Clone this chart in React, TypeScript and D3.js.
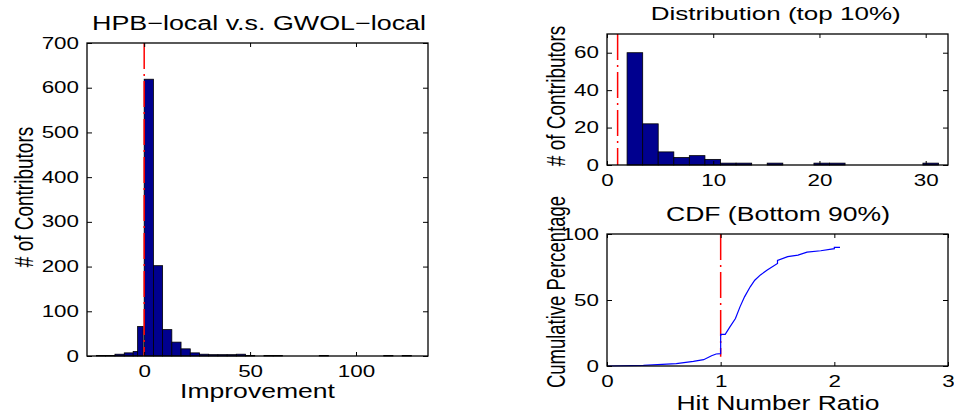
import React, { useRef, useEffect } from "react";
import * as d3 from "d3";

const W = 954;
const H = 413;
const SX = 1.4; // the source figure was stretched sideways, text included
const FONT = "'Liberation Sans', Arial, Helvetica, sans-serif";
const NAVY = "#00008f";

// left: HPB-local v.s. GWOL-local (histogram of improvement)
const improvementLo = [-22.5, -18.2, -13.8, -9.4, -5.2, -3.1, 0, 4.35, 8.7, 13.05, 17.4, 21.75, 26.1, 30.45, 34.8, 39.15, 43.5, 47.85, 56.55, 60.9, 82.65, 113.1, 121.8];
const improvementHi = [-18.2, -13.8, -9.4, -5.2, -3.1, -0.5, 4.35, 8.7, 13.05, 17.4, 21.75, 26.1, 30.45, 34.8, 39.15, 43.5, 47.85, 52.2, 60.9, 65.25, 87, 117.45, 126.15];
const improvementCounts = [1, 1, 4, 7, 10, 66, 619, 202, 59, 31, 16, 7, 4, 3, 3, 3, 4, 1, 1, 1, 1, 1, 1];
const improvementXTicks = [0, 50, 100];
const improvementYTicks = [0, 100, 200, 300, 400, 500, 600, 700];
const improvementRef = 0;

// top right: Distribution (top 10%)
const topEdges = [1.89, 3.36, 4.82, 6.29, 7.75, 9.22, 10.69, 12.15, 13.62, 15.08, 16.55, 18.02, 19.48, 20.95, 22.41, 23.88, 25.35, 26.81, 28.28, 29.74, 31.21];
const topCounts = [60, 22, 7, 4, 5, 3, 1, 1, 0, 1, 0, 0, 1, 1, 0, 0, 0, 0, 0, 1];
const topXTicks = [0, 10, 20, 30];
const topYTicks = [0, 20, 40, 60];
const ratioRef = 1;

// bottom right: CDF (Bottom 90%)
const cdfRatio = [0, 0.32, 0.61, 0.76, 0.85, 0.92, 0.96, 1.0, 1.0, 1.04, 1.08, 1.13, 1.17, 1.21, 1.26, 1.3, 1.35, 1.41, 1.5, 1.5, 1.59, 1.68, 1.76, 1.88, 2.0, 2.0, 2.05];
const cdfPercent = [0, 0.5, 1.8, 3.5, 4.8, 7.8, 9.1, 9.4, 24, 24, 29.4, 36, 44.8, 52.4, 60, 65, 69, 72.7, 77.7, 80, 82.8, 84, 86.3, 87.3, 88.9, 89.9, 89.9];
const cdfXTicks = [0, 1, 2, 3];
const cdfYTicks = [0, 50, 100];

const leftBox = { x: 87, y: 43, w: 341, h: 313 };
const topBox = { x: 607, y: 34, w: 341, h: 131 };
const botBox = { x: 607, y: 234, w: 341, h: 132 };

const fmt = d3.format("~g");

// matlab style box: inward ticks on all four sides
function drawAxes(g, x, y, box, xTicks, yTicks) {
  const tick = (sel) => {
    sel.select(".domain").remove();
    sel.selectAll("line").attr("stroke", "#000").attr("stroke-width", 1);
  };
  const bottom = g.append("g")
    .attr("transform", `translate(0,${box.h})`)
    .call(d3.axisBottom(x).tickValues(xTicks).tickFormat(fmt).tickSizeInner(-4).tickSizeOuter(0).tickPadding(10))
    .call(tick);
  bottom.selectAll("text")
    .attr("transform", `scale(${SX},1)`)
    .style("font-size", "16px")
    .attr("fill", "#000");

  g.append("g")
    .call(d3.axisTop(x).tickValues(xTicks).tickFormat(() => "").tickSizeInner(-4).tickSizeOuter(0))
    .call(tick);

  const left = g.append("g")
    .call(d3.axisLeft(y).tickValues(yTicks).tickFormat(fmt).tickSizeInner(-5).tickSizeOuter(0))
    .call(tick);
  left.selectAll("text")
    .attr("x", -8 / SX)
    .attr("transform", `scale(${SX},1)`)
    .style("font-size", "16px")
    .attr("fill", "#000");

  g.append("g")
    .attr("transform", `translate(${box.w},0)`)
    .call(d3.axisRight(y).tickValues(yTicks).tickFormat(() => "").tickSizeInner(-5).tickSizeOuter(0))
    .call(tick);

  g.append("rect")
    .attr("width", box.w)
    .attr("height", box.h)
    .attr("fill", "none")
    .attr("stroke", "#000")
    .attr("stroke-width", 1.3);
}

function hLabel(svg, str, cx, base, size, len) {
  svg.append("text")
    .attr("x", cx)
    .attr("y", base)
    .attr("text-anchor", "middle")
    .attr("textLength", len)
    .attr("lengthAdjust", "spacingAndGlyphs")
    .style("font-size", `${size}px`)
    .text(str);
}

function vLabel(svg, str, baseX, cy, size) {
  svg.append("text")
    .attr("transform", `translate(${baseX},${cy}) rotate(-90) scale(1,${SX})`)
    .attr("text-anchor", "middle")
    .style("font-size", `${size}px`)
    .text(str);
}

function refLine(g, xPos, y0, y1) {
  g.append("line")
    .attr("x1", xPos).attr("x2", xPos)
    .attr("y1", y0).attr("y2", y1)
    .attr("stroke", "#ff0000")
    .attr("stroke-width", 1.5)
    .attr("stroke-dasharray", "26,5,2,5");
}

export default function App() {
  const svgRef = useRef(null);

  useEffect(() => {
    const svg = d3.select(svgRef.current);
    svg.selectAll("*").remove();
    svg.style("font-family", FONT);

    // ---- left histogram
    const g1 = svg.append("g").attr("transform", `translate(${leftBox.x},${leftBox.y})`);
    const x1 = d3.scaleLinear().domain([-27, 134]).range([0, leftBox.w]);
    const y1 = d3.scaleLinear().domain([0, 700]).range([leftBox.h, 0]);
    g1.selectAll("rect.bar")
      .data(improvementCounts)
      .enter()
      .append("rect")
      .attr("class", "bar")
      .attr("x", (d, i) => x1(improvementLo[i]))
      .attr("y", (d) => y1(d))
      .attr("width", (d, i) => x1(improvementHi[i]) - x1(improvementLo[i]))
      .attr("height", (d) => y1(0) - y1(d))
      .attr("fill", NAVY)
      .attr("stroke", "#000")
      .attr("stroke-width", 0.8);
    refLine(g1, x1(improvementRef), y1(700), y1(0));
    drawAxes(g1, x1, y1, leftBox, improvementXTicks, improvementYTicks);

    hLabel(svg, "HPB\u2212local v.s. GWOL\u2212local", 259, 30, 20, 334);
    hLabel(svg, "Improvement", 257.5, 398, 19.5, 155);
    vLabel(svg, "# of Contributors", 33, 197, 19);

    // ---- top right histogram
    const g2 = svg.append("g").attr("transform", `translate(${topBox.x},${topBox.y})`);
    const x2 = d3.scaleLinear().domain([0, 32.1]).range([0, topBox.w]);
    const y2 = d3.scaleLinear().domain([0, 70]).range([topBox.h, 0]);
    g2.selectAll("rect.bar")
      .data(topCounts)
      .enter()
      .append("rect")
      .attr("class", "bar")
      .attr("x", (d, i) => x2(topEdges[i]))
      .attr("y", (d) => y2(d))
      .attr("width", (d, i) => x2(topEdges[i + 1]) - x2(topEdges[i]))
      .attr("height", (d) => y2(0) - y2(d))
      .attr("fill", NAVY)
      .attr("stroke", "#000")
      .attr("stroke-width", 0.8);
    refLine(g2, x2(ratioRef), y2(70), y2(0));
    drawAxes(g2, x2, y2, topBox, topXTicks, topYTicks);

    hLabel(svg, "Distribution (top 10%)", 775.7, 20, 19, 250);
    vLabel(svg, "# of Contributors", 565, 96, 19);

    // ---- bottom right cdf
    const g3 = svg.append("g").attr("transform", `translate(${botBox.x},${botBox.y})`);
    const x3 = d3.scaleLinear().domain([0, 3]).range([0, botBox.w]);
    const y3 = d3.scaleLinear().domain([0, 100]).range([botBox.h, 0]);
    const line = d3.line()
      .x((d, i) => x3(cdfRatio[i]))
      .y((d) => y3(d));
    refLine(g3, x3(ratioRef), y3(100), y3(7));
    g3.append("path")
      .datum(cdfPercent)
      .attr("d", line)
      .attr("fill", "none")
      .attr("stroke", "#0000ff")
      .attr("stroke-width", 1.2);
    drawAxes(g3, x3, y3, botBox, cdfXTicks, cdfYTicks);

    hLabel(svg, "CDF (Bottom 90%)", 778, 221, 19.5, 224);
    hLabel(svg, "Hit Number Ratio", 778, 410, 20, 203);
    vLabel(svg, "Cumulative Percentage", 565, 292, 18.5);
  }, []);

  return (
    <svg
      ref={svgRef}
      width={W}
      height={H}
      style={{ position: "absolute", left: 0, top: 0, background: "#fff" }}
    />
  );
}
